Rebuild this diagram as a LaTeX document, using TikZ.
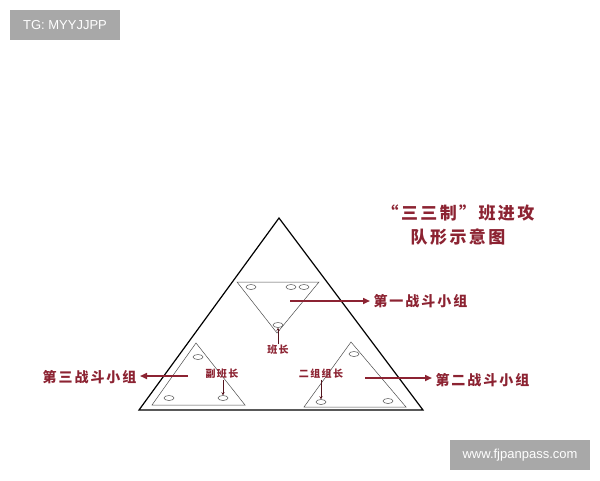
\documentclass[tikz,border=0pt]{standalone}
\usepackage{fontspec}
\setmainfont{Liberation Sans}
\newfontfamily\cjk{Noto Sans CJK SC}[LetterSpace=14]
\usetikzlibrary{arrows.meta,shapes.geometric}
\definecolor{rougefonce}{RGB}{140,35,50}
\definecolor{grismarque}{RGB}{168,168,168}
\begin{document}
\begin{tikzpicture}[x=1pt,y=-1pt]
\tikzset{grandtri/.style={draw, line width=1.2pt},
  petittri/.style={draw=black!70, line width=0.5pt},
  ovale/.style={draw=black!70, ellipse, line width=0.5pt, minimum width=10pt, minimum height=5pt, inner sep=0pt},
  fleche/.style={draw=rougefonce, line width=1.6pt, -{Triangle[length=7pt,width=6pt]}},
  pointe/.style={draw=rougefonce!60!black, line width=0.6pt, -{Stealth[length=3pt,width=3pt]}},
  groupe/.style={text=rougefonce, font=\cjk\bfseries\fontsize{14}{16}\selectfont},
  chef/.style={text=rougefonce, font=\cjk\bfseries\fontsize{10}{12}\selectfont, inner sep=1pt},
  marque/.style={fill=grismarque, text=white, minimum height=30pt, font=\fontsize{13}{15}\selectfont}}
\useasboundingbox (0,0) rectangle (600,480);
\node[marque, minimum width=110pt] (M1) at (65,25) {TG: MYYJJPP};
\node[marque, minimum width=140pt] (M2) at (520,455) {www.fjpanpass.com};
\node[text=rougefonce, align=center, font=\cjk\bfseries\fontsize{17}{24}\selectfont] (T) at (458,225) {“三三制”班进攻\\队形示意图};
\draw[grandtri] (279,218) -- (423,410) -- (139,410) -- cycle;
\draw[petittri] (237,282) -- (319,282) -- (277,333) -- cycle;
\draw[petittri] (196,343) -- (245,405) -- (152,405) -- cycle;
\draw[petittri] (351,342) -- (406,407) -- (304,407) -- cycle;
\node[ovale] (E1) at (251,287) {};
\node[ovale] (E2) at (291,287) {};
\node[ovale] (E3) at (304,287) {};
\node[ovale] (E4) at (278,325) {};
\node[ovale] (E5) at (198,357) {};
\node[ovale] (E6) at (169,398) {};
\node[ovale] (E7) at (223,398) {};
\node[ovale] (E8) at (354,354) {};
\node[ovale] (E9) at (321,402) {};
\node[ovale] (E10) at (388,401) {};
\node[chef] (C1) at (278,350) {班长};
\node[chef] (C2) at (222,374) {副班长};
\node[chef] (C3) at (321,374) {二组组长};
\draw[pointe] (C1) -- (E4);
\draw[pointe] (C2.south -| E7) -- (E7);
\draw[pointe] (C3.south -| E9) -- (E9);
\coordinate (D1) at (290,301);
\coordinate (D2) at (365,378);
\coordinate (D3) at (188,376);
\node[groupe, anchor=west] (G1) at (370,301) {第一战斗小组};
\node[groupe, anchor=west] (G2) at (432,380) {第二战斗小组};
\node[groupe, anchor=east] (G3) at (140,377) {第三战斗小组};
\draw[fleche] (D1) -- (G1.west);
\draw[fleche] (D2) -- (G2.west |- D2);
\draw[fleche] (D3) -- (G3.east |- D3);
\end{tikzpicture}
\end{document}
